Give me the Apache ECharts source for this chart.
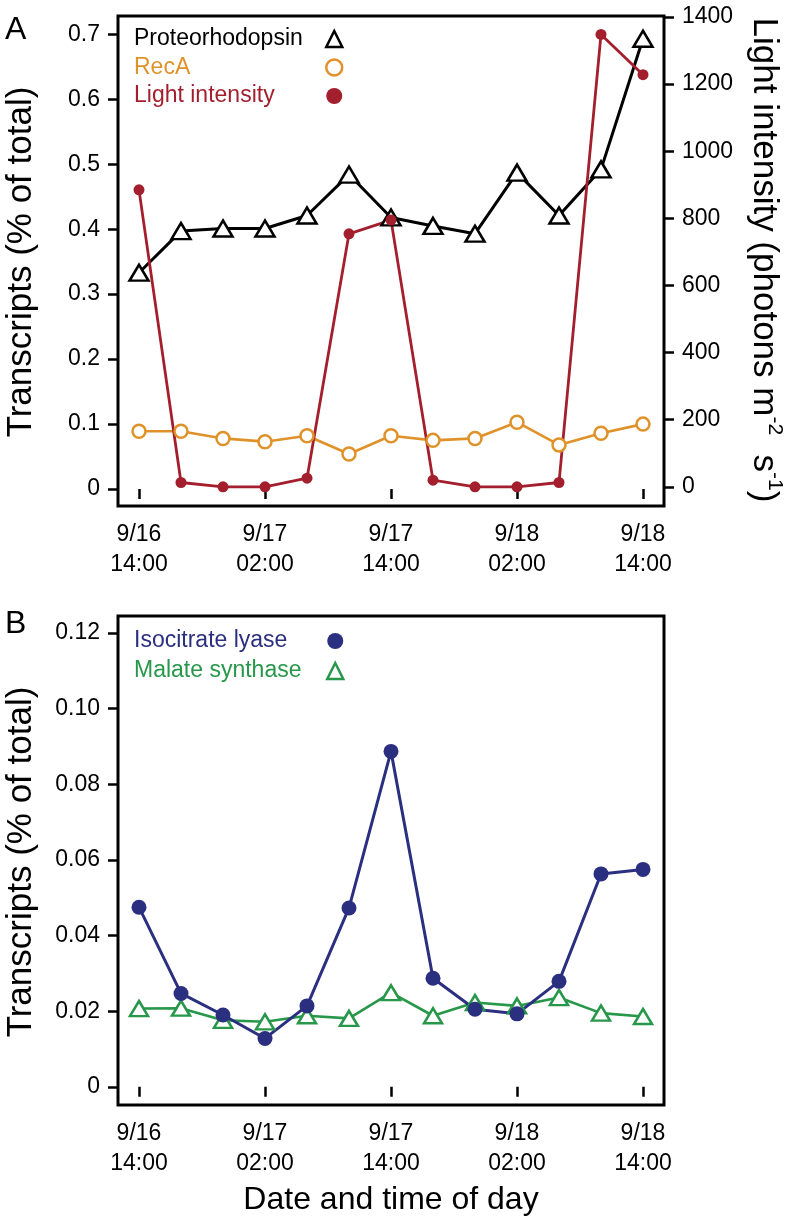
<!DOCTYPE html>
<html>
<head>
<meta charset="utf-8">
<script src="https://cdn.jsdelivr.net/npm/echarts@6/dist/echarts.min.js"></script>
<style>
  html, body { margin: 0; padding: 0; background: #fff; }
  #chart { width: 791px; height: 1232px; }
</style>
</head>
<body>
<div id="chart"></div>
<script>
// sampling times, every 4 h
const timeLabels = [
  '9/16\n14:00', '9/16\n18:00', '9/16\n22:00', '9/17\n02:00', '9/17\n06:00', '9/17\n10:00', '9/17\n14:00',
  '9/17\n18:00', '9/17\n22:00', '9/18\n02:00', '9/18\n06:00', '9/18\n10:00', '9/18\n14:00'
]
// panel A
const proteorhodopsin = [0.333, 0.397, 0.401, 0.401, 0.421, 0.484, 0.418, 0.405, 0.393, 0.487, 0.421, 0.492, 0.693]
const recA = [0.089, 0.089, 0.078, 0.073, 0.082, 0.054, 0.082, 0.075, 0.078, 0.103, 0.068, 0.086, 0.100]
const lightIntensity = [885, 13, 0, 0, 26, 754, 795, 20, 0, 0, 13, 1348, 1228]
// panel B
const isocitrateLyase = [0.0475, 0.0247, 0.0190, 0.0128, 0.0214, 0.0473, 0.0887, 0.0287, 0.0205, 0.0193, 0.0279, 0.0563, 0.0575]
const malateSynthase = [0.0207, 0.0208, 0.0176, 0.0172, 0.0188, 0.0181, 0.0249, 0.0188, 0.0223, 0.0214, 0.0236, 0.0195, 0.0186]
// tick values
const leftTicksA = [0, 0.1, 0.2, 0.3, 0.4, 0.5, 0.6, 0.7]
const rightTicksA = [0, 200, 400, 600, 800, 1000, 1200, 1400]
const leftTicksB = [0, 0.02, 0.04, 0.06, 0.08, 0.10, 0.12]

const FONT = 'Liberation Sans, Arial, Helvetica, sans-serif'
const C_BLACK = '#000000'
const C_ORANGE = '#E0922A'
const C_RED = '#A31F2E'
const C_BLUE = '#2B2F80'
const C_GREEN = '#27974A'

const every3 = (idx) => idx % 3 === 0

function xAxis (gridIndex) {
  return {
    type: 'category',
    gridIndex: gridIndex,
    data: timeLabels,
    boundaryGap: true,
    axisLine: { show: false },
    axisTick: { show: true, interval: every3, alignWithLabel: true, length: 10, lineStyle: { color: '#000', width: 2.5 } },
    axisLabel: { interval: every3, margin: 14, color: '#000', fontSize: 23, lineHeight: 30, fontFamily: FONT },
    splitLine: { show: false }
  }
}

function yAxis (gridIndex, position, min, max, ticks, fmt) {
  return {
    type: 'value',
    gridIndex: gridIndex,
    position: position,
    min: min,
    max: max,
    axisLine: { show: false },
    axisTick: { show: true, customValues: ticks, length: 10, lineStyle: { color: '#000', width: 2.5 } },
    axisLabel: { customValues: ticks, margin: 18, color: '#000', fontSize: 23, fontFamily: FONT, formatter: fmt },
    splitLine: { show: false }
  }
}

const fmtA = v => (Math.abs(v) < 1e-9 ? '0' : v.toFixed(1))
const fmtR = v => String(Math.round(v))
const fmtB = v => (Math.abs(v) < 1e-9 ? '0' : v.toFixed(2))

function legendText (items, left, top, gap) {
  return {
    orient: 'vertical',
    left: left,
    top: top,
    padding: 0,
    itemGap: gap,
    itemWidth: 0,
    itemHeight: 16,
    itemStyle: { opacity: 0 },
    selectedMode: false,
    textStyle: { fontSize: 23, lineHeight: 28, fontFamily: FONT },
    data: items.map(it => ({ name: it.name, icon: 'rect', textStyle: { color: it.color } }))
  }
}

function legendIcons (items, left, top, gap) {
  return {
    orient: 'vertical',
    left: left,
    top: top,
    padding: 0,
    itemGap: gap,
    itemWidth: 16,
    itemHeight: 16,
    selectedMode: false,
    formatter: () => ' ',
    textStyle: { fontSize: 23, lineHeight: 28, fontFamily: FONT },
    data: items.map(it => ({ name: it.name, icon: it.icon, itemStyle: it.itemStyle }))
  }
}

const legendA = [
  { name: 'Proteorhodopsin', color: C_BLACK, icon: 'triangle', itemStyle: { color: '#fff', borderColor: C_BLACK, borderWidth: 2.5 } },
  { name: 'RecA', color: C_ORANGE, icon: 'circle', itemStyle: { color: '#fff', borderColor: C_ORANGE, borderWidth: 2.5 } },
  { name: 'Light intensity', color: C_RED, icon: 'circle', itemStyle: { color: C_RED, borderWidth: 0 } }
]
const legendB = [
  { name: 'Isocitrate lyase', color: C_BLUE, icon: 'circle', itemStyle: { color: C_BLUE, borderWidth: 0 } },
  { name: 'Malate synthase', color: C_GREEN, icon: 'triangle', itemStyle: { color: '#fff', borderColor: C_GREEN, borderWidth: 2.5 } }
]

const chart = echarts.init(document.getElementById('chart'), null, { renderer: 'canvas' })
const options = {
  animation: false,
  backgroundColor: '#fff',
  grid: [
    { left: 118, top: 16, width: 546, height: 490, show: true, borderColor: '#000', borderWidth: 3, backgroundColor: 'transparent' },
    { left: 118, top: 616, width: 546, height: 489, show: true, borderColor: '#000', borderWidth: 3, backgroundColor: 'transparent' }
  ],
  xAxis: [xAxis(0), xAxis(1)],
  yAxis: [
    yAxis(0, 'left', -0.026, 0.728, leftTicksA, fmtA),
    yAxis(0, 'right', -57, 1403, rightTicksA, fmtR),
    yAxis(1, 'left', -0.0048, 0.1245, leftTicksB, fmtB)
  ],
  legend: [
    legendText(legendA, 128, 25, 0.5),
    legendIcons(legendA, 325, 25, 0.5),
    legendText(legendB, 128, 627, 2),
    legendIcons(legendB, 326, 627, 2)
  ],
  graphic: [
    { type: 'text', left: 5, top: 14, style: { text: 'A', fontSize: 32, fontFamily: FONT, fill: '#000' } },
    { type: 'text', left: 5, top: 608, style: { text: 'B', fontSize: 32, fontFamily: FONT, fill: '#000' } },
    { type: 'text', x: 21, y: 262, rotation: Math.PI / 2, style: { text: 'Transcripts (% of total)', fontSize: 35, fontFamily: FONT, fill: '#000', align: 'center', verticalAlign: 'middle' } },
    { type: 'text', x: 21, y: 862, rotation: Math.PI / 2, style: { text: 'Transcripts (% of total)', fontSize: 35, fontFamily: FONT, fill: '#000', align: 'center', verticalAlign: 'middle' } },
    {
      type: 'text', x: 764, y: 260, rotation: -Math.PI / 2,
      style: {
        text: '{a|Light intensity (photons m}{b|-2}{a|  s}{b|-1}{a|)}',
        align: 'center', verticalAlign: 'middle', fill: '#000',
        rich: {
          a: { fontSize: 35, lineHeight: 42, fontFamily: FONT, fill: '#000' },
          b: { fontSize: 21, lineHeight: 42, fontFamily: FONT, fill: '#000', verticalAlign: 'top' }
        }
      }
    },
    { type: 'text', x: 391, y: 1200, style: { text: 'Date and time of day', fontSize: 32, fontFamily: FONT, fill: '#000', align: 'center', verticalAlign: 'middle' } }
  ],
  series: [
    {
      name: 'Proteorhodopsin', type: 'line', xAxisIndex: 0, yAxisIndex: 0, data: proteorhodopsin,
      symbol: 'triangle', symbolSize: [19, 16],
      lineStyle: { color: C_BLACK, width: 3 },
      itemStyle: { color: '#fff', borderColor: C_BLACK, borderWidth: 2.5 }
    },
    {
      name: 'RecA', type: 'line', xAxisIndex: 0, yAxisIndex: 0, data: recA,
      symbol: 'circle', symbolSize: 13,
      lineStyle: { color: C_ORANGE, width: 2.6 },
      itemStyle: { color: '#fff', borderColor: C_ORANGE, borderWidth: 2.5 }
    },
    {
      name: 'Light intensity', type: 'line', xAxisIndex: 0, yAxisIndex: 1, data: lightIntensity,
      symbol: 'circle', symbolSize: 11,
      lineStyle: { color: C_RED, width: 2.8 },
      itemStyle: { color: C_RED, borderWidth: 0 }
    },
    {
      name: 'Malate synthase', type: 'line', xAxisIndex: 1, yAxisIndex: 2, data: malateSynthase,
      symbol: 'triangle', symbolSize: [18, 15],
      lineStyle: { color: C_GREEN, width: 2.6 },
      itemStyle: { color: '#fff', borderColor: C_GREEN, borderWidth: 2.5 }
    },
    {
      name: 'Isocitrate lyase', type: 'line', xAxisIndex: 1, yAxisIndex: 2, data: isocitrateLyase,
      symbol: 'circle', symbolSize: 15,
      lineStyle: { color: C_BLUE, width: 3 },
      itemStyle: { color: C_BLUE, borderWidth: 0 }
    }
  ]
}
chart.setOption(options)
</script>
</body>
</html>
